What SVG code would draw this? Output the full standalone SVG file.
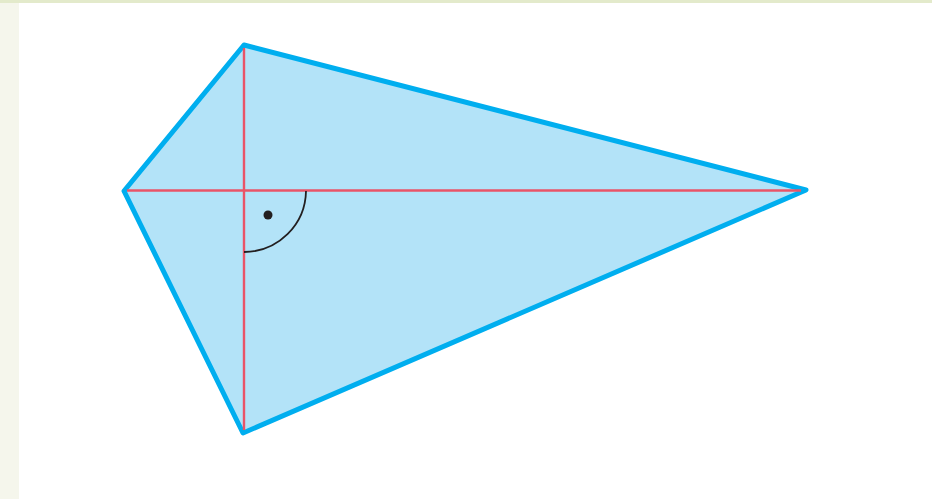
<svg xmlns="http://www.w3.org/2000/svg" width="932" height="499" viewBox="0 0 932 499">
<style>
.kite{fill:#b3e3f8;stroke:#00aeef;stroke-width:5;stroke-linejoin:round}
.diag{stroke:#e95468;stroke-width:2.4;fill:none}
.arc{stroke:#231f20;stroke-width:1.8;fill:none}
</style>
<rect x="0" y="0" width="932" height="499" fill="#ffffff"/>
<rect x="0" y="0" width="19" height="499" fill="#f5f6ec"/>
<rect x="0" y="0" width="932" height="3" fill="#e3eacb"/>
<g id="kite">
<polygon class="kite" points="244,45 806,190 243,433 124,191"/>
</g>
<g id="diagonals">
<line class="diag" x1="244" y1="48" x2="244" y2="430"/>
<line class="diag" x1="127" y1="190.5" x2="801" y2="190.5"/>
</g>
<g id="right-angle">
<path class="arc" d="M306,191 A62,62 0 0 1 244,252"/>
<circle cx="268" cy="215" r="4.5" fill="#231f20"/>
</g>
</svg>
